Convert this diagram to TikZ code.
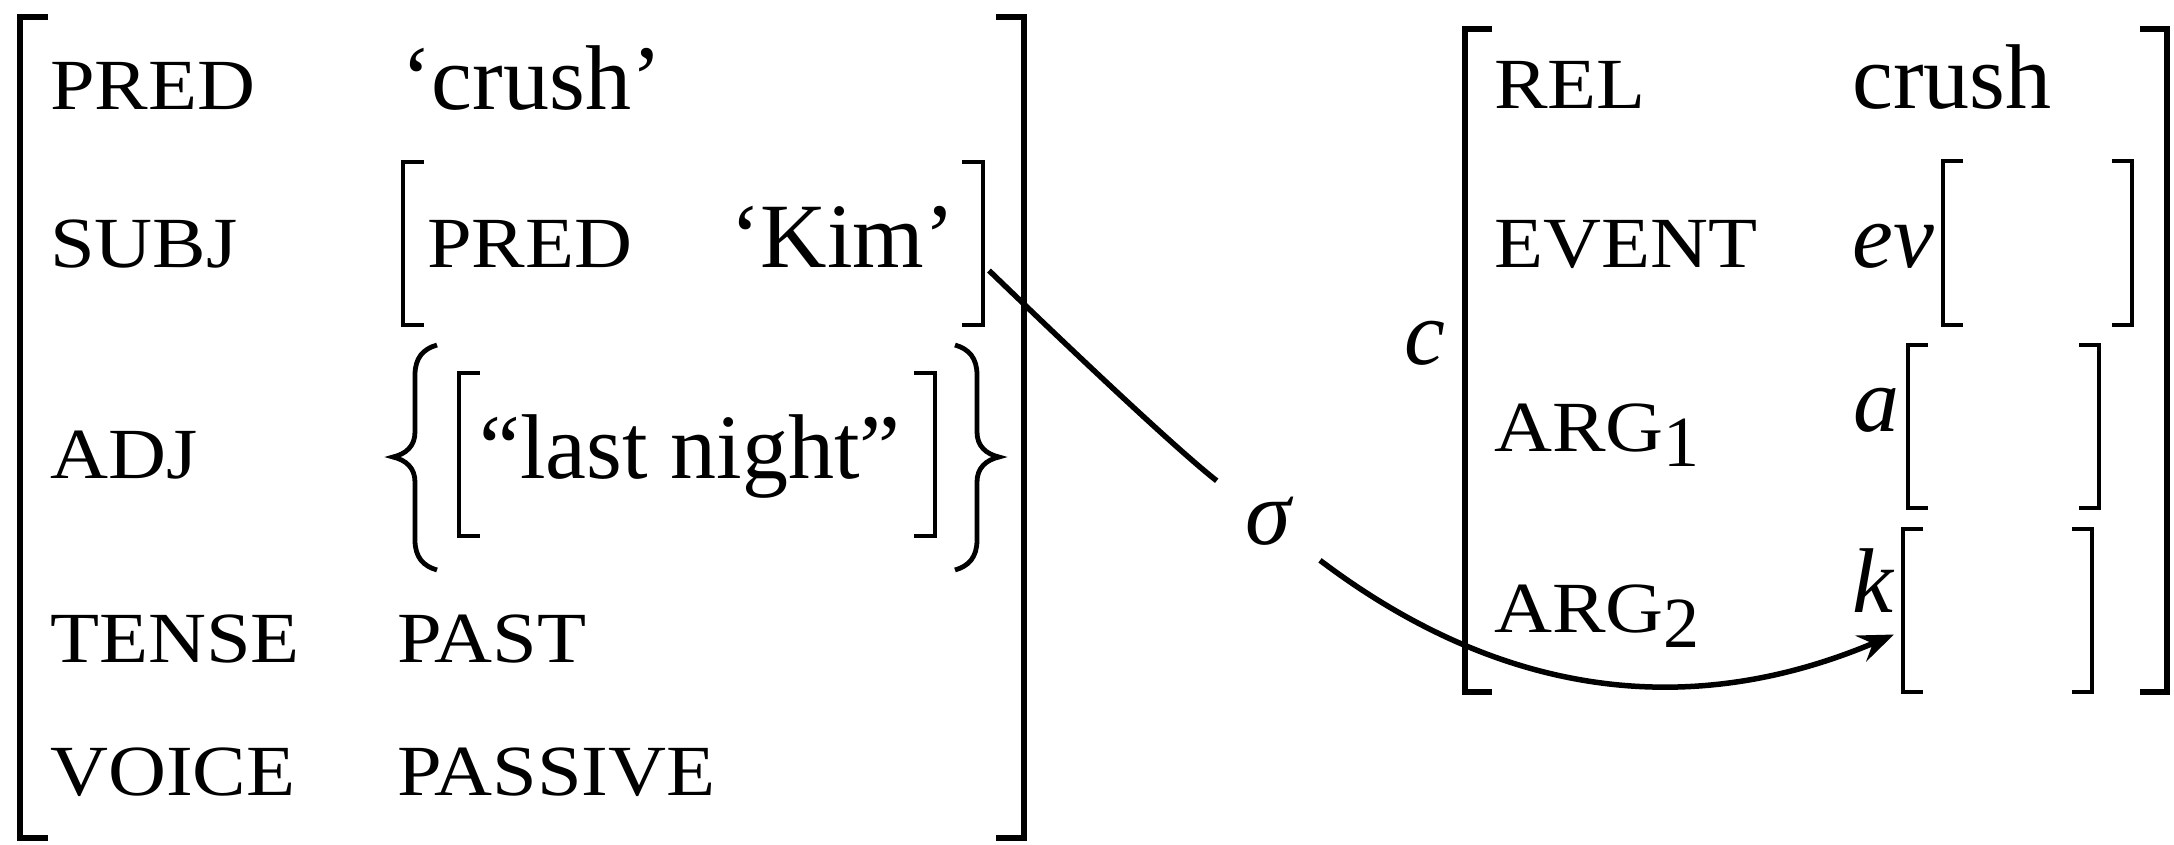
\documentclass[tikz,border=0pt]{standalone}
\usepackage{fontspec}
\setmainfont{Liberation Serif}
\newfontfamily\attrfont[FakeStretch=1.115]{Liberation Serif}
\usetikzlibrary{arrows.meta,calc}
\newcommand\avmbr[3]{%
  \draw[#3] ($(#1.north west)+(#2,0)$) -- (#1.north west) -- (#1.south west) -- ($(#1.south west)+(#2,0)$);
  \draw[#3] ($(#1.north east)+(-#2,0)$) -- (#1.north east) -- (#1.south east) -- ($(#1.south east)+(-#2,0)$);
}
\begin{document}
\begin{tikzpicture}[x=1pt,y=-1pt,
  attr/.style={anchor=base west, inner sep=0pt, font=\attrfont\fontsize{72}{72}\selectfont},
  val/.style={anchor=base west, inner sep=0pt, font=\fontsize{92}{92}\selectfont},
  ival/.style={anchor=base west, inner sep=0pt, font=\fontsize{92}{92}\selectfont\itshape},
  box/.style={rectangle, draw=none, inner sep=0pt, outer sep=0pt},
  thickbr/.style={line width=6.5pt},
  thinbr/.style={line width=3.8pt},
  bracestyle/.style={line width=4.8pt},
  link/.style={line width=5.5pt},
  lab/.style={circle, inner sep=0pt, minimum size=130pt, font=\fontsize{92}{92}\selectfont\itshape}
]
\useasboundingbox (0,0) rectangle (2174,844);

% ---------- f-structure ----------
\node[box, minimum width=1004pt, minimum height=821pt] (f) at (522,427.5) {};
\avmbr{f}{28}{thickbr}

\node[attr] (predA) at (50,109) {PRED};
\node[val]  (predV) at (401,109) {‘crush’};

\node[attr] (subjA) at (50,267) {SUBJ};
\node[box, minimum width=580pt, minimum height=163pt] (subj) at (693,243.5) {};
\avmbr{subj}{21}{thinbr}
\node[attr] (ipredA) at (427,267) {PRED};
\node[val]  (kim) at (730,267) {‘Kim’};

\node[attr] (adjA) at (50,478) {ADJ};
\node[box, minimum width=476pt, minimum height=163pt] (adjf) at (697,454.5) {};
\avmbr{adjf}{21}{thinbr}
\node[val] (lastnight) at (479,478) {“last night”};
\draw[bracestyle] (437,345) .. controls (423,349) and (415,358) .. (415,375) -- (415,432)
  .. controls (415,446) and (406,454) .. (393,457) .. controls (406,460) and (415,468) .. (415,482)
  -- (415,540) .. controls (415,557) and (423,566) .. (437,570);
\draw[bracestyle] (955,345) .. controls (969,349) and (977,358) .. (977,375) -- (977,432)
  .. controls (977,446) and (986,454) .. (999,457) .. controls (986,460) and (977,468) .. (977,482)
  -- (977,540) .. controls (977,557) and (969,566) .. (955,570);

\node[attr] (tenseA) at (50,662) {TENSE};
\node[attr] (tenseV) at (397,662) {PAST};
\node[attr] (voiceA) at (50,795) {VOICE};
\node[attr] (voiceV) at (397,795) {PASSIVE};

% ---------- s-structure ----------
\node[box, minimum width=702pt, minimum height=663pt] (cs) at (1816,360.5) {};
\avmbr{cs}{27}{thickbr}
\node[ival] (clab) at (1404,364) {c};

\node[attr] (relA) at (1494,108) {REL};
\node[val]  (relV) at (1852,108) {crush};

\node[attr] (evA) at (1494,267) {EVENT};
\node[ival] (evV) at (1852,267) {ev};
\node[box, minimum width=189pt, minimum height=164pt] (evbox) at (2037.5,243) {};
\avmbr{evbox}{20}{thinbr}

\node[attr] (arg1A) at (1494,451) {ARG{\rmfamily\fontsize{72}{72}\selectfont\raisebox{-15pt}{1}}};
\node[ival] (aV) at (1853,431) {a};
\node[box, minimum width=191pt, minimum height=163pt] (abox) at (2003.5,426.5) {};
\avmbr{abox}{20}{thinbr}

\node[attr] (arg2A) at (1494,632) {ARG{\rmfamily\fontsize{72}{72}\selectfont\raisebox{-15pt}{2}}};
\node[ival] (kV) at (1852,612) {k};
\node[box, minimum width=189pt, minimum height=163pt] (kbox) at (1997.5,610.5) {};
\avmbr{kbox}{20}{thinbr}

% ---------- sigma projection ----------
\node[lab] (sigma) at (1268,521) {σ};
\coordinate (subjout) at ($(subj.east)+(6,27)$);
\coordinate (kin) at ($(kbox.west)+(-9,24)$);
\draw[link] (subjout) .. controls (1089,367) and (1180,452) .. (sigma);
\draw[link, -{Stealth[length=36pt,width=28pt,inset=13pt]}] (sigma) .. controls (1473,676) and (1661,733) .. (kin);
\end{tikzpicture}
\end{document}
